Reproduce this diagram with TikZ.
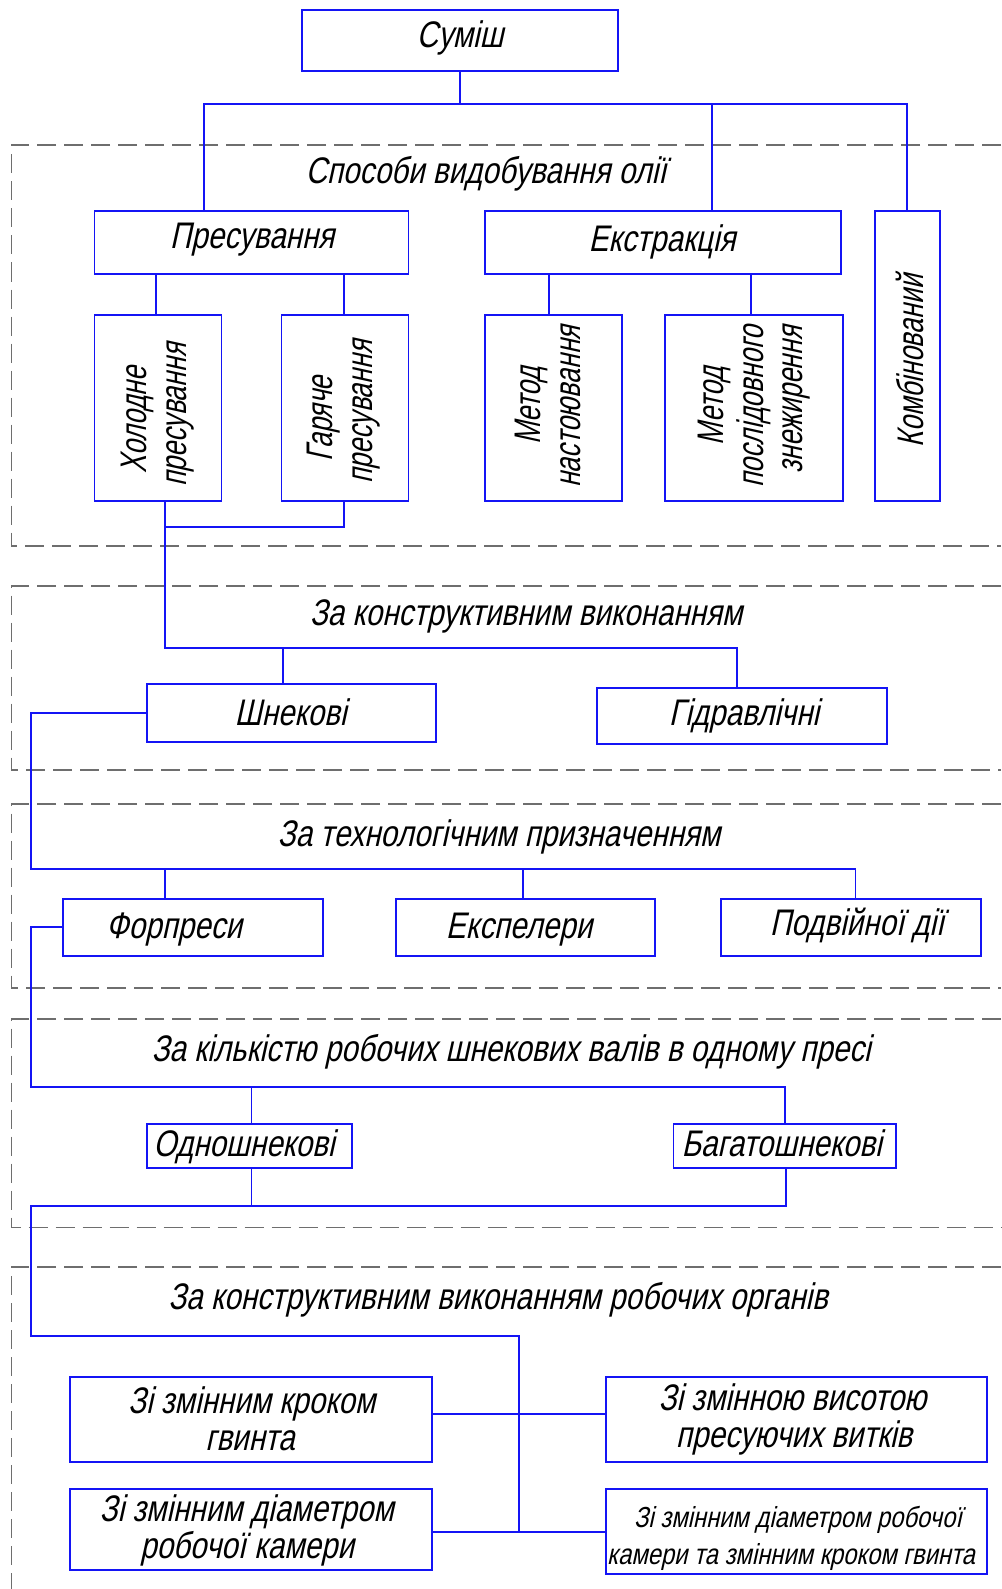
\documentclass[tikz,border=0pt]{standalone}
\usepackage{fontspec}
\newfontfamily\gost{Liberation Sans}[FakeStretch=0.8,FakeSlant=0.22]
\newfontfamily\gostv{Liberation Sans}[FakeStretch=0.72,FakeSlant=0.22]
\newfontfamily\gosts{Liberation Sans}[FakeStretch=0.82,FakeSlant=0.22]
\definecolor{lineblue}{RGB}{20,20,245}
\definecolor{dashgray}{RGB}{110,110,110}
\begin{document}
\begin{tikzpicture}[x=1pt,y=-1pt,
  box/.style={draw=lineblue, line width=1.9pt, inner sep=0pt, outer sep=0pt, rectangle},
  conn/.style={draw=lineblue, line width=1.9pt},
  zone/.style={draw=dashgray, line width=1.6pt, dash pattern=on 19pt off 8pt},
  txt/.style={font=\gost\fontsize{37}{40}\selectfont, inner sep=0pt, anchor=base, text=black},
  smalltxt/.style={font=\gosts\fontsize{29}{32}\selectfont, inner sep=0pt, anchor=base, text=black},
  vtxt/.style={font=\gostv\fontsize{37}{40}\selectfont, inner sep=0pt, anchor=base, text=black, rotate=90},
  firstline/.style={text depth=0pt},
  secondline/.style={text height=20pt}]
\useasboundingbox (0,0) rectangle (1001,1589);

% ---------- dashed zones ----------
\draw[zone] (1001,145) -- (11.5,145) -- (11.5,546) -- (1001,546);
\draw[zone] (1001,586) -- (11.5,586) -- (11.5,770) -- (1001,770);
\draw[zone] (1001,804) -- (11.5,804) -- (11.5,988) -- (1001,988);
\draw[zone] (1001,1019) -- (11.5,1019) -- (11.5,1227.3) -- (1001,1227.3);
\draw[zone] (1001,1266.7) -- (11.5,1266.7) -- (11.5,1589);

% ---------- boxes ----------
\node[box, minimum width=316pt, minimum height=61pt] (sumish) at (460,40.5) {};
\node[box, minimum width=314pt, minimum height=63pt] (pres) at (251.5,242.5) {};
\node[box, minimum width=356pt, minimum height=63pt] (ekstr) at (663,242.5) {};
\node[box, minimum width=65pt, minimum height=290pt] (komb) at (907.5,356) {};
\node[box, minimum width=127pt, minimum height=186pt] (khol) at (158,408) {};
\node[box, minimum width=127pt, minimum height=186pt] (gar) at (345,408) {};
\node[box, minimum width=137.4pt, minimum height=186pt] (nast) at (553.7,408) {};
\node[box, minimum width=178pt, minimum height=186pt] (posl) at (753.6,408) {};
\node[box, minimum width=289.2pt, minimum height=57.7pt] (shnek) at (291.4,712.85) {};
\node[box, minimum width=290.4pt, minimum height=56.6pt] (gidr) at (742.2,716) {};
\node[box, minimum width=260.4pt, minimum height=57pt] (forp) at (192.8,927.2) {};
\node[box, minimum width=259.2pt, minimum height=57pt] (ekspel) at (525.4,927.2) {};
\node[box, minimum width=259.2pt, minimum height=57pt] (podv) at (851,927.2) {};
\node[box, minimum width=205pt, minimum height=44.3pt] (odno) at (249.3,1145.85) {};
\node[box, minimum width=222.2pt, minimum height=44.3pt] (bagato) at (784.6,1145.85) {};
\node[box, minimum width=361.4pt, minimum height=85pt] (krok) at (250.9,1419.2) {};
\node[box, minimum width=381pt, minimum height=85pt] (vysota) at (796.5,1419.2) {};
\node[box, minimum width=361.4pt, minimum height=81.3pt] (diam) at (250.9,1529.35) {};
\node[box, minimum width=381pt, minimum height=85.3pt] (diamkrok) at (796.5,1531.35) {};

% ---------- texts ----------
\node[txt] (tsumish) at (460,48) {Суміш};
\node[txt] (tsposoby) at (486,184) {Способи видобування олії};
\node[txt] (tpres) at (252,248) {Пресування};
\node[txt] (tekstr) at (662,251.7) {Екстракція};
\node[vtxt] (tkhol1) at (146,420) {Холодне};
\node[vtxt] (tkhol2) at (186,415) {пресування};
\node[vtxt] (tgar1) at (332,419) {Гаряче};
\node[vtxt] (tgar2) at (372,412) {пресування};
\node[vtxt] (tnast1) at (540,405.7) {Метод};
\node[vtxt] (tnast2) at (580,406.7) {настоювання};
\node[vtxt] (tposl1) at (723,406) {Метод};
\node[vtxt] (tposl2) at (763,406.7) {послідовного};
\node[vtxt] (tposl3) at (802,400) {знежирення};
\node[vtxt] (tkomb) at (923,361) {Комбінований};
\node[txt] (tkonstr) at (526,625) {За конструктивним виконанням};
\node[txt] (tshnek) at (290.5,725) {Шнекові};
\node[txt] (tgidr) at (744,725) {Гідравлічні};
\node[txt] (ttekhn) at (499,846.7) {За технологічним призначенням};
\node[txt] (tforp) at (174,938) {Форпреси};
\node[txt] (tekspel) at (519,938) {Експелери};
\node[txt] (tpodv) at (857,935) {Подвійної дії};
\node[txt] (tkilk) at (511,1061.7) {За кількістю робочих шнекових валів в одному пресі};
\node[txt] (todno) at (244,1156.7) {Одношнекові};
\node[txt] (tbagato) at (781.6,1156.7) {Багатошнекові};
\node[txt] (torg) at (498,1309) {За конструктивним виконанням робочих органів};
\node[txt, firstline] (tkrok1) at (251.7,1413.3) {Зі змінним кроком};
\node[txt, secondline] (tkrok2) at (250,1450) {гвинта};
\node[txt, firstline] (tvys1) at (792.5,1410) {Зі змінною висотою};
\node[txt, secondline] (tvys2) at (794,1447) {пресуючих витків};
\node[txt, firstline] (tdiam1) at (246.7,1521) {Зі змінним діаметром};
\node[txt, secondline] (tdiam2) at (247,1558) {робочої камери};
\node[smalltxt, firstline] (tdk1) at (798,1527) {Зі змінним діаметром робочої};
\node[smalltxt, secondline] (tdk2) at (791,1564) {камери та змінним кроком гвинта};

% ---------- junction coordinates ----------
\coordinate (j1) at (204,104);
\coordinate (j2) at (712,104);
\coordinate (j3) at (907,104);
\coordinate (p1) at (156.4,290);
\coordinate (p2) at (344,290);
\coordinate (e1) at (549,290);
\coordinate (e2) at (751,290);
\coordinate (g1) at (344,527.3);
\coordinate (k1) at (164.7,648);
\coordinate (k2) at (736.7,648);
\coordinate (k3) at (282.8,648);
\coordinate (t0) at (30.6,869);
\coordinate (t1) at (164.7,869);
\coordinate (t2) at (522.9,869);
\coordinate (t3) at (855.5,869);
\coordinate (u0) at (30.6,1086.7);
\coordinate (u1) at (251.5,1086.7);
\coordinate (u2) at (784.6,1086.7);
\coordinate (v0) at (30.6,1205.7);
\coordinate (v1) at (251.5,1205.7);
\coordinate (v2) at (786,1205.7);
\coordinate (w0) at (30.6,1336);
\coordinate (w1) at (519,1336);
\coordinate (w2) at (519,1532);
\coordinate (h1) at (519,1414.3);

% ---------- connectors ----------
\draw[conn] (sumish.south) -- (sumish.south |- j1);
\draw[conn] (j1 |- pres.north) -- (j1) -- (j3) -- (j3 |- komb.north);
\draw[conn] (j2) -- (j2 |- ekstr.north);
\draw[conn] (p1 |- pres.south) -- (p1 |- khol.north);
\draw[conn] (p2 |- pres.south) -- (p2 |- gar.north);
\draw[conn] (e1 |- ekstr.south) -- (e1 |- nast.north);
\draw[conn] (e2 |- ekstr.south) -- (e2 |- posl.north);
\draw[conn] (g1 |- gar.south) -- (g1) -- (g1 -| k1);
\draw[conn] (k1 |- khol.south) -- (k1) -- (k2) -- (k2 |- gidr.north);
\draw[conn] (k3) -- (k3 |- shnek.north);
\draw[conn] (shnek.west) -| (t0) -- (t3) -- (t3 |- podv.north);
\draw[conn] (t1) -- (t1 |- forp.north);
\draw[conn] (t2) -- (t2 |- ekspel.north);
\draw[conn] (forp.west) -| (u0) -- (u2) -- (u2 |- bagato.north);
\draw[conn] (u1) -- (u1 |- odno.north);
\draw[conn] (v1 |- odno.south) -- (v1);
\draw[conn] (v2 |- bagato.south) -- (v2) -- (v0) -- (w0) -- (w1) -- (w2);
\draw[conn] (h1 -| krok.east) -- (h1 -| vysota.west);
\draw[conn] (w2 -| diam.east) -- (w2 -| diamkrok.west);
\end{tikzpicture}
\end{document}
